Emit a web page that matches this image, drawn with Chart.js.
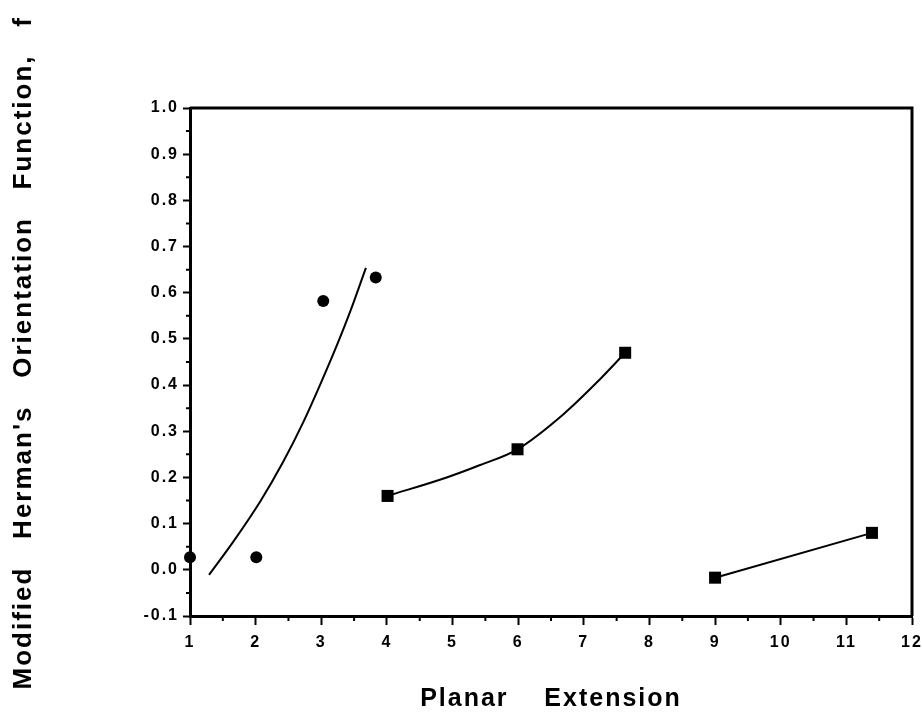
<!DOCTYPE html>
<html>
<head>
<meta charset="utf-8">
<script src="https://cdn.jsdelivr.net/npm/chart.js@4"></script>
<style>
  html, body { margin: 0; padding: 0; background: #fff; }
  #contenedor { width: 922px; height: 720px; }
</style>
</head>
<body>
<div id="contenedor"><canvas id="grafica" width="922" height="720"></canvas></div>
<script>
// datos
const circulosX = [1.0, 2.01, 3.03, 3.83];
const circulosY = [0.027, 0.027, 0.582, 0.633];

// curva ajustada (sin marcadores)
const curvaX = [1.29, 1.66, 2.07, 2.42, 2.73, 2.98, 3.24, 3.44, 3.68];
const curvaY = [-0.011, 0.061, 0.148, 0.234, 0.321, 0.400, 0.487, 0.559, 0.654];

const cuadrosAX = [4.01, 5.99, 7.63];
const cuadrosAY = [0.160, 0.261, 0.470];

// linea que une los cuadros A
const ajusteAX = [4.01, 4.91, 5.42, 5.99, 6.69, 7.20, 7.63];
const ajusteAY = [0.160, 0.200, 0.227, 0.261, 0.337, 0.406, 0.470];

const cuadrosBX = [9.0, 11.39];
const cuadrosBY = [-0.017, 0.080];

// ejes
const ticksX = [1, 2, 3, 4, 5, 6, 7, 8, 9, 10, 11, 12];
const ticksY = [-0.1, 0.0, 0.1, 0.2, 0.3, 0.4, 0.5, 0.6, 0.7, 0.8, 0.9, 1.0];
const menoresX = [1.5, 2.5, 3.5, 4.5, 5.5, 6.5, 7.5, 8.5, 9.5, 10.5, 11.5];
const menoresY = [-0.05, 0.05, 0.15, 0.25, 0.35, 0.45, 0.55, 0.65, 0.75, 0.85, 0.95];

const tituloX = 'Planar    Extension';
const tituloY = '  Modified   Herman\'s   Orientation   Function,   f';

const juntar = (xs, ys) => xs.map((x, i) => ({ x: x, y: ys[i] }));

const fuente = 'Helvetica, "Liberation Sans", Arial, sans-serif';

// espaciado de letras como en el original
const espaciado = {
    id: 'espaciado',
    beforeUpdate(chart) { chart.ctx.letterSpacing = '2px'; },
    beforeDraw(chart) { chart.ctx.letterSpacing = '2px'; }
};

// marco superior/derecho y marcas menores
const marco = {
    id: 'marco',
    beforeDatasetsDraw(chart) {
        const { ctx, chartArea, scales } = chart;
        ctx.save();
        ctx.strokeStyle = '#000';
        ctx.lineWidth = 3;
        ctx.beginPath();
        ctx.moveTo(chartArea.left, chartArea.top);
        ctx.lineTo(chartArea.right, chartArea.top);
        ctx.lineTo(chartArea.right, chartArea.bottom);
        ctx.stroke();

        ctx.lineWidth = 2;
        ctx.beginPath();
        menoresX.forEach(v => {
            const px = scales.x.getPixelForValue(v);
            ctx.moveTo(px, chartArea.bottom);
            ctx.lineTo(px, chartArea.bottom + 5);
        });
        menoresY.forEach(v => {
            const py = scales.y.getPixelForValue(v);
            ctx.moveTo(chartArea.left, py);
            ctx.lineTo(chartArea.left - 4, py);
        });
        ctx.stroke();
        ctx.restore();
    }
};

const ctx = document.getElementById('grafica');

new Chart(ctx, {
    type: 'scatter',
    data: {
        datasets: [
            {
                label: 'curva',
                data: juntar(curvaX, curvaY),
                showLine: true,
                borderColor: '#000',
                borderWidth: 2,
                pointRadius: 0,
                cubicInterpolationMode: 'monotone',
                clip: false
            },
            {
                label: 'circulos',
                data: juntar(circulosX, circulosY),
                showLine: false,
                pointStyle: 'circle',
                pointRadius: 6,
                backgroundColor: '#000',
                borderColor: '#000',
                borderWidth: 0,
                clip: false
            },
            {
                label: 'ajuste A',
                data: juntar(ajusteAX, ajusteAY),
                showLine: true,
                borderColor: '#000',
                borderWidth: 2,
                pointRadius: 0,
                cubicInterpolationMode: 'monotone',
                clip: false
            },
            {
                label: 'cuadros A',
                data: juntar(cuadrosAX, cuadrosAY),
                showLine: false,
                pointStyle: 'rect',
                pointRadius: 8.5,
                backgroundColor: '#000',
                borderColor: '#000',
                borderWidth: 0,
                clip: false
            },
            {
                label: 'cuadros B',
                data: juntar(cuadrosBX, cuadrosBY),
                showLine: true,
                borderColor: '#000',
                borderWidth: 2,
                pointStyle: 'rect',
                pointRadius: 8.5,
                pointBackgroundColor: '#000',
                pointBorderWidth: 0,
                clip: false
            }
        ]
    },
    options: {
        responsive: false,
        animation: false,
        devicePixelRatio: 1,
        layout: { padding: { top: 108, right: 10, left: 0, bottom: 0 } },
        plugins: {
            legend: { display: false },
            tooltip: { enabled: false }
        },
        scales: {
            x: {
                type: 'linear',
                min: 1,
                max: 12,
                afterBuildTicks: s => { s.ticks = ticksX.map(v => ({ value: v })); },
                afterFit: s => { s.height = 104; s.paddingLeft = 0; s.paddingRight = 0; },
                ticks: {
                    color: '#000',
                    padding: 8,
                    maxRotation: 0,
                    font: { family: fuente, size: 16, weight: 'bold' },
                    callback: v => String(v)
                },
                grid: {
                    drawOnChartArea: false,
                    drawTicks: true,
                    tickLength: 9,
                    tickWidth: 2,
                    tickColor: '#000'
                },
                border: { display: true, color: '#000', width: 3 },
                title: {
                    display: true,
                    text: tituloX,
                    color: '#000',
                    padding: { top: 0, bottom: 6 },
                    font: { family: fuente, size: 25, weight: 'bold' }
                }
            },
            y: {
                type: 'linear',
                min: -0.1,
                max: 1.0,
                afterBuildTicks: s => { s.ticks = ticksY.map(v => ({ value: v })); },
                afterFit: s => { s.width = 190; s.paddingTop = 0; s.paddingBottom = 0; },
                ticks: {
                    color: '#000',
                    padding: 4,
                    font: { family: fuente, size: 16, weight: 'bold' },
                    callback: v => v.toFixed(1)
                },
                grid: {
                    drawOnChartArea: false,
                    drawTicks: true,
                    tickLength: 7,
                    tickWidth: 2,
                    tickColor: '#000'
                },
                border: { display: true, color: '#000', width: 3 },
                title: {
                    display: true,
                    text: tituloY,
                    color: '#000',
                    padding: { top: 8, bottom: 0 },
                    font: { family: fuente, size: 26, weight: 'bold' }
                }
            }
        }
    },
    plugins: [espaciado, marco]
});
</script>
</body>
</html>
